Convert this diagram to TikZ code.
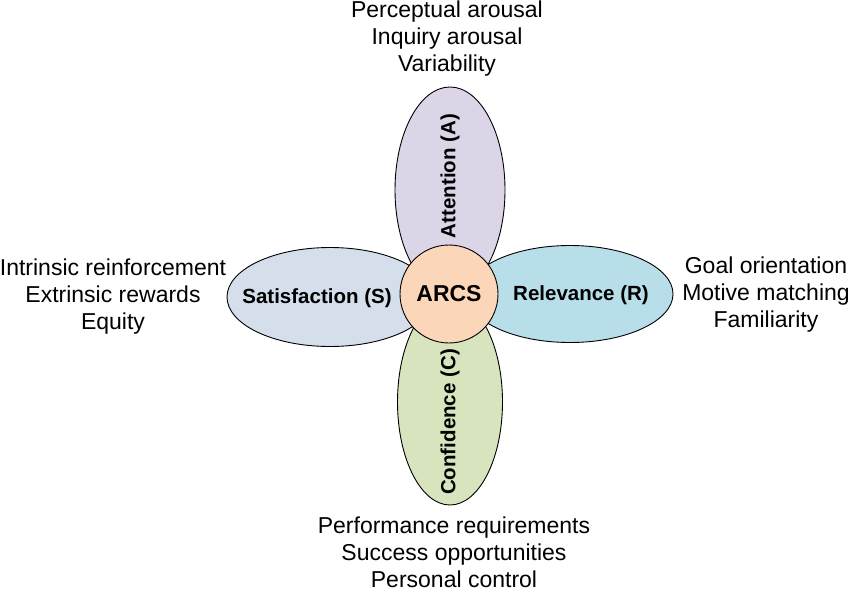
\documentclass[tikz,border=0pt]{standalone}
\usepackage{fontspec}
\setmainfont{Liberation Sans}
\usepackage{tikz}
\usetikzlibrary{shapes.geometric}
\definecolor{attcol}{HTML}{DCD5E8}
\definecolor{satcol}{HTML}{D5DFEC}
\definecolor{relcol}{HTML}{B8DFE9}
\definecolor{concol}{HTML}{D8E4BE}
\definecolor{arcscol}{HTML}{FBD6B8}

\begin{document}
\begin{tikzpicture}[x=1pt,y=-1pt,
    petal/.style={ellipse, draw, line width=0.9pt, inner sep=0pt},
    petaltext/.style={font=\fontsize{20.5}{24}\selectfont\bfseries},
    listtext/.style={align=center, font=\fontsize{23}{27}\selectfont}]
    \useasboundingbox (0,0) rectangle (850,591);

    % side petals
    \node [petal, fill=satcol, minimum width=206, minimum height=99] (sat) at (330,297) {};
    \node [petaltext] (sattext) at (317,298) {Satisfaction (S)};
    \node [petal, fill=relcol, minimum width=206, minimum height=97] (rel) at (570,294) {};
    \node [petaltext] (reltext) at (581,295) {Relevance (R)};

    % upper and lower petals
    \node [petal, fill=attcol, minimum width=206, minimum height=110, rotate=90] (att) at (450,190) {};
    \node [petaltext, rotate=90] (atttext) at (450,176) {Attention (A)};
    \node [petal, fill=concol, minimum width=206, minimum height=105, rotate=90] (con) at (450,402) {};
    \node [petaltext, rotate=90] (context) at (450,422) {Confidence (C)};

    % centre
    \node [circle, draw, line width=0.9pt, fill=arcscol, minimum size=98, inner sep=0pt,
           font=\fontsize{23}{27}\selectfont\bfseries] (arcs) at (449,294) {ARCS};

    % lists
    \node [listtext] (attlist) at (447,39) {Perceptual arousal\\Inquiry arousal\\Variability};
    \node [listtext] (satlist) at (113,297) {Intrinsic reinforcement\\Extrinsic rewards\\Equity};
    \node [listtext] (rellist) at (766,295) {Goal orientation\\Motive matching\\Familiarity};
    \node [listtext] (conlist) at (454,552) {Performance requirements\\Success opportunities\\Personal control};
\end{tikzpicture}
\end{document}
